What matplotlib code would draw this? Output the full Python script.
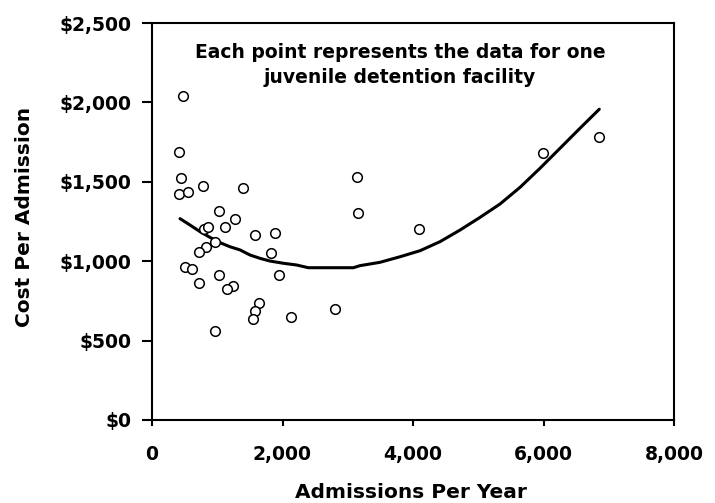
import matplotlib
matplotlib.use("Agg")
import matplotlib.pyplot as plt
from matplotlib.ticker import FuncFormatter

plt.rcParams["font.family"] = ["DejaVu Sans"]
plt.rcParams["font.weight"] = "bold"

# facilities: admissions per year vs cost per admission
admissions = [470, 414, 445, 414, 547, 782, 1400, 1022, 1272, 792, 853, 1124,
              1579, 1885, 971, 823, 720, 1824, 506, 608, 1027, 1946, 725, 1246,
              1145, 1640, 1579, 1553, 2135, 2805, 971, 3145, 3150, 4090, 5990, 6850]
cost = [2042, 1690, 1526, 1425, 1438, 1476, 1463, 1314, 1266, 1205, 1215, 1213,
        1165, 1175, 1123, 1091, 1060, 1049, 961, 949, 913, 913, 863, 846,
        823, 737, 686, 636, 649, 699, 562, 1528, 1302, 1201, 1679, 1780]

# trend line
trend_x = [429, 582, 736, 889, 1042, 1195, 1349, 1502, 1655, 1808, 2013, 2217,
           2396, 2881, 3086, 3188, 3494, 3801, 4107, 4414, 4720, 5027, 5333,
           5640, 5946, 6253, 6559, 6855]
trend_y = [1268, 1228, 1186, 1150, 1117, 1091, 1071, 1039, 1018, 1001, 987, 976,
           959, 959, 959, 972, 993, 1028, 1066, 1123, 1196, 1276, 1360,
           1465, 1585, 1711, 1837, 1957]

fig = plt.figure(figsize=(7.15, 5.03), dpi=100)
ax = fig.add_axes([152 / 715, 1 - 420 / 503, (674 - 152) / 715, (420 - 23) / 503])

ax.plot(trend_x, trend_y, color="black", lw=2.2, zorder=2, solid_capstyle="round")
ax.scatter(admissions, cost, s=48, facecolors="white", edgecolors="black",
           linewidths=1.1, zorder=3)

ax.set_xlim(0, 8000)
ax.set_ylim(0, 2500)
ax.set_xticks(range(0, 8001, 2000))
ax.set_yticks(range(0, 2501, 500))
ax.xaxis.set_major_formatter(FuncFormatter(lambda v, p: f"{int(v):,}"))
ax.yaxis.set_major_formatter(FuncFormatter(lambda v, p: f"${int(v):,}"))
ax.tick_params(axis="y", direction="out", length=7, width=1.5, labelsize=13.5, pad=8)
ax.tick_params(axis="x", direction="out", length=4, width=1.5, labelsize=13.5, pad=14)
for lbl in ax.get_xticklabels() + ax.get_yticklabels():
    lbl.set_fontweight("bold")
for s in ax.spines.values():
    s.set_linewidth(1.5)

fig.text(411 / 715, 1 - 498 / 503, "Admissions Per Year", ha="center", va="baseline",
         fontsize=14.5, fontweight="bold")
fig.text(25 / 715, 1 - 217 / 503, "Cost Per Admission", ha="center", va="center",
         rotation=90, fontsize=14.5, fontweight="bold")

ax.text(0.475, 0.894, "Each point represents the data for one\njuvenile detention facility",
        transform=ax.transAxes, ha="center", va="center", fontsize=13.5,
        fontweight="bold", linespacing=1.35)

fig.savefig("out.png", dpi=100)
